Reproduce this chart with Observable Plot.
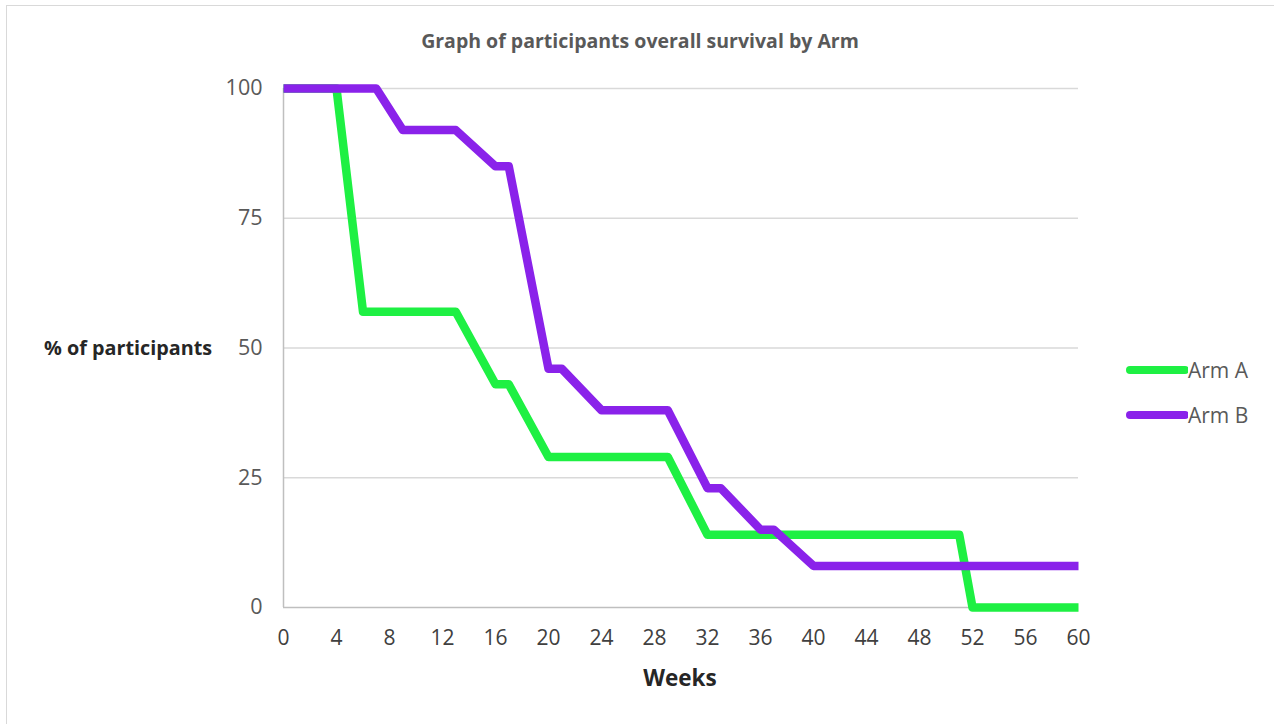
<!DOCTYPE html>
<html><head><meta charset="utf-8">
<script src="https://cdn.jsdelivr.net/npm/d3@7"></script>
<script src="https://cdn.jsdelivr.net/npm/@observablehq/plot@0.6"></script>
<style>
body{margin:0;background:#fff;font-family:"Open Sans",sans-serif;}
#wrap{position:relative;width:1274px;height:724px;overflow:hidden;background:#fff;}
#frame{position:absolute;left:6px;top:5px;width:1400px;height:900px;border:1px solid #d9d9d9;box-sizing:border-box;}
#chart{position:absolute;left:0;top:0;}
.lbl{position:absolute;white-space:nowrap;line-height:1;}
#title{left:0;width:1280px;top:31px;text-align:center;font-weight:bold;font-size:19.5px;color:#595959;}
#ylab{left:44px;top:338px;font-weight:bold;font-size:19.8px;color:#262626;}
#xlab{left:580px;width:200px;top:667px;text-align:center;font-weight:bold;font-size:22.5px;color:#262626;}
#legend{position:absolute;left:1125px;top:347px;}
.item{display:flex;align-items:center;height:45px;font-size:21px;color:#595959;}
.item svg{margin-right:0px;}
</style>
</head><body>
<div id="wrap">
  <div id="frame"></div>
  <div id="chart"></div>
  <div class="lbl" id="title"></div>
  <div class="lbl" id="ylab"></div>
  <div class="lbl" id="xlab"></div>
  <div id="legend"></div>
</div>
<script>
const titleText = "Graph of participants overall survival by Arm";
const yLabel = "% of participants";
const xLabel = "Weeks";
const seriesNames = ["Arm A", "Arm B"];
const seriesColors = ["#1ef043", "#8a22ea"];
const armAWeeks = [0, 4, 6, 13, 16, 17, 20, 29, 32, 51, 52, 60];
const armAPct   = [100, 100, 57, 57, 43, 43, 29, 29, 14, 14, 0, 0];
const armBWeeks = [0, 7, 9, 13, 16, 17, 20, 21, 24, 29, 32, 33, 36, 37, 40, 60];
const armBPct   = [100, 100, 92, 92, 85, 85, 46, 46, 38, 38, 23, 23, 15, 15, 8, 8];
const xTicks = [0, 4, 8, 12, 16, 20, 24, 28, 32, 36, 40, 44, 48, 52, 56, 60];
const yTicks = [0, 25, 50, 75, 100];

const rows = [
  ...armAWeeks.map((w, i) => ({arm: seriesNames[0], week: w, pct: armAPct[i]})),
  ...armBWeeks.map((w, i) => ({arm: seriesNames[1], week: w, pct: armBPct[i]}))
];

const plot = Plot.plot({
  width: 1274, height: 724,
  marginLeft: 283, marginRight: 196, marginTop: 88, marginBottom: 117,
  style: {fontFamily: '"Open Sans", sans-serif', background: "transparent", overflow: "visible"},
  x: {domain: [0, 60], ticks: xTicks, label: null},
  y: {domain: [0, 100], ticks: yTicks, label: null},
  color: {domain: seriesNames, range: seriesColors},
  marks: [
    Plot.ruleY(yTicks.filter(d => d > 0), {stroke: "#d9d9d9", strokeWidth: 1.5}),
    Plot.ruleY([0], {stroke: "#bfbfbf", strokeWidth: 1.5}),
    Plot.ruleX([0], {stroke: "#bfbfbf", strokeWidth: 1.5}),
    Plot.lineY(rows, {x: "week", y: "pct", z: "arm", stroke: "arm", strokeWidth: 8.5, strokeLinejoin: "round", strokeLinecap: "butt", curve: "linear"}),
    Plot.axisY({ticks: yTicks, tickSize: 0, tickPadding: 21, fontSize: 21.5, color: "#595959", label: null}),
    Plot.axisX({ticks: xTicks, tickSize: 0, tickPadding: 23, fontSize: 21, color: "#404040", label: null})
  ]
});
document.getElementById("chart").appendChild(plot);
document.getElementById("title").textContent = titleText;
document.getElementById("ylab").textContent = yLabel;
document.getElementById("xlab").textContent = xLabel;
const leg = document.getElementById("legend");
seriesNames.forEach((n, i) => {
  const d = document.createElement("div");
  d.className = "item";
  d.innerHTML = `<svg width="63" height="12"><line x1="5" y1="6" x2="60" y2="6" stroke="${seriesColors[i]}" stroke-width="8" stroke-linecap="round"/></svg><span></span>`;
  d.querySelector("span").textContent = n;
  leg.appendChild(d);
});
</script>
</body></html>
